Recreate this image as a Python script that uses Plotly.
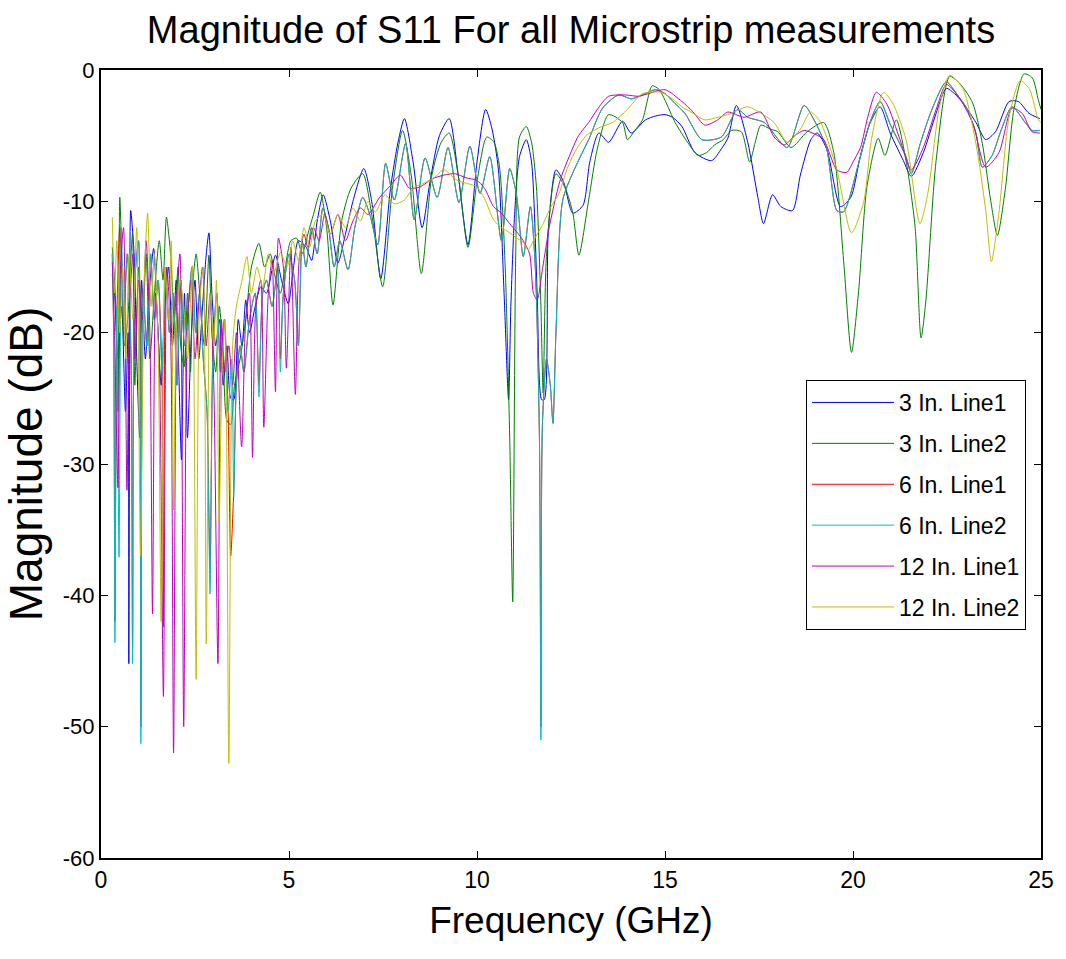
import plotly.graph_objects as go

# ---- data: (frequency GHz, magnitude dB) ----
BLUE = [(0.3,-15.6),(0.35,-16.5),(0.45,-22),(0.55,-18),(0.65,-26),(0.72,-20),(0.74,-45.2),(0.76,-24),(0.79,-10.7),
        (0.88,-14),(0.95,-21.9),(1.03,-28),(1.08,-16),(1.18,-22),(1.28,-17),(1.4,-13.6),(1.5,-19),(1.6,-24),(1.7,-18),(1.8,-15),
        (1.9,-21),(2.0,-16),(2.07,-23),(2.14,-29.7),(2.22,-17),(2.3,-28),(2.4,-20.3),(2.5,-16),(2.6,-22),(2.7,-18),(2.8,-14),(2.87,-12.4),
        (2.95,-17),(3.05,-21),(3.15,-19),(3.25,-24),(3.35,-21),(3.45,-25),(3.53,-25.1),(3.65,-19),(3.75,-21),(3.85,-17.5),
        (3.95,-20),(4.1,-18),(4.25,-16.5),(4.4,-17),(4.64,-14.1),(4.8,-16),(4.98,-17.8),(5.1,-15.5),(5.25,-13),(5.46,-13.5),
        (5.6,-14.5),(5.75,-11.5),(5.91,-9.5),(6.1,-11.5),(6.3,-14.7),(6.5,-12.5),(6.7,-10),(6.99,-7.5),(7.2,-10),(7.44,-15.9),
        (7.7,-9),(7.9,-5.5),(8.07,-3.7),(8.3,-7),(8.54,-12),(8.75,-8.5),(9.0,-5),(9.26,-3.7),(9.5,-8),(9.76,-13.3),(10.0,-7),
        (10.23,-3.0),(10.4,-4.5),(10.57,-7.6),(10.72,-17),(10.84,-25.1),(10.9,-18),(11.0,-11),(11.13,-6.6),(11.31,-5.3),
        (11.45,-7),(11.6,-17),(11.72,-25.1),(11.79,-25.1),(11.9,-12),(12.1,-7.6),(12.3,-8.5),(12.55,-10.9),(12.82,-10.3),
        (13.0,-7),(13.24,-4.8),(13.5,-5.5),(13.87,-3.9),(14.1,-4.8),(14.48,-3.8),(14.75,-3.5),(15.0,-3.4),(15.2,-3.6),
        (15.45,-4.3),(15.8,-6.3),(16.24,-6.9),(16.5,-6),(16.67,-5.2),(16.9,-2.7),(17.2,-5.5),(17.47,-9.7),(17.62,-11.7),
        (17.86,-9.5),(18.08,-10.4),(18.39,-10.7),(18.6,-8),(18.88,-5.3),(19.05,-4.8),(19.31,-6.1),(19.67,-10.4),(19.94,-9.7),
        (20.2,-6.5),(20.46,-4.0),(20.72,-2.8),(20.99,-4.8),(21.34,-6.9),(21.55,-8.1),(21.87,-6.3),(22.21,-3.3),(22.48,-1.4),
        (22.7,-1.8),(22.92,-2.5),(23.27,-4.0),(23.53,-5.3),(23.79,-4.7),(24.15,-2.4),(24.4,-2.4),(24.68,-3.3),(24.97,-3.7)]

GREEN = [(0.3,-13.5),(0.38,-17),(0.45,-26),(0.5,-9.7),(0.56,-15),(0.62,-21),(0.71,-19),(0.8,-14),(0.84,-12.4),(0.9,-24),(1.0,-15),
         (1.1,-20),(1.2,-14),(1.3,-22),(1.42,-17),(1.55,-13),(1.65,-16),(1.74,-11.2),(1.85,-14),(1.95,-19),(2.05,-15),
         (2.12,-21),(2.21,-22.6),(2.3,-17),(2.38,-23),(2.45,-16),(2.53,-14),(2.65,-18),(2.75,-21),(2.87,-14.1),(2.95,-20),(3.05,-23),
         (3.15,-18),(3.25,-22),(3.35,-26.7),(3.45,-27),(3.55,-24),(3.7,-22),(3.85,-19),(4.0,-15),(4.2,-13.2),(4.35,-15),
         (4.5,-14),(4.65,-16),(4.77,-17),(4.9,-15),(5.05,-13),(5.2,-12.8),(5.35,-14),(5.5,-12.5),(5.65,-11),(5.83,-9.3),
         (6.0,-12),(6.17,-17.9),(6.4,-11.5),(6.65,-9),(6.96,-7.9),(7.2,-11),(7.49,-16.5),(7.75,-9),(8.02,-4.6),(8.25,-8),
         (8.52,-15.5),(8.8,-8),(9.05,-5.5),(9.26,-4.8),(9.5,-8),(9.76,-13.5),(10.0,-8.5),(10.26,-5.1),(10.45,-5.5),(10.6,-7.4),
         (10.75,-15),(10.87,-28),(10.95,-40.5),(11.03,-14),(11.13,-5.1),(11.31,-4.3),(11.45,-5.5),(11.58,-8.9),(11.7,-18),
         (11.76,-24.6),(11.85,-14),(12.1,-7.9),(12.35,-9),(12.55,-10.9),(12.71,-14.1),(12.97,-9.9),(13.2,-6),(13.5,-3.4),
         (13.87,-4.0),(14.0,-5.3),(14.2,-4.6),(14.4,-3.8),(14.66,-1.2),(14.85,-1.5),(15.0,-2.3),(15.27,-4.0),(15.6,-5.5),
         (15.88,-6.5),(16.1,-6.3),(16.32,-5.7),(16.55,-5.3),(16.77,-4.6),(17.03,-4.7),(17.25,-7.0),(17.4,-5.5),(17.55,-4.2),
         (17.8,-4.5),(18.0,-4.7),(18.35,-5.9),(18.78,-4.7),(19.22,-4.0),(19.49,-6.3),(19.75,-14.5),(19.96,-21.5),(20.15,-16.8),
         (20.37,-8.9),(20.67,-5.2),(20.85,-6.5),(21.15,-3.8),(21.41,-6.9),(21.65,-11.9),(21.81,-20.4),(21.94,-17.5),
         (22.21,-6.9),(22.57,-0.5),(22.83,-1.0),(23.18,-2.5),(23.44,-5.6),(23.66,-9.9),(23.84,-12.6),(24.05,-9.1),
         (24.28,-3.0),(24.55,-0.3),(24.77,-0.6),(24.93,-2.3),(25.0,-3.0)]

RED = [(0.3,-14),(0.34,-21),(0.37,-42),(0.42,-19),(0.5,-12),(0.6,-19),(0.7,-14),(0.8,-22),(0.84,-44),(0.9,-16),
       (1.0,-13),(1.06,-50),(1.12,-17),(1.22,-21),(1.32,-14),(1.42,-19),(1.52,-16),(1.62,-23),(1.66,-42.4),(1.72,-15),(1.82,-20),
       (1.92,-17),(2.02,-24),(2.12,-16),(2.22,-21),(2.32,-18),(2.42,-15),(2.52,-20),(2.62,-17),(2.72,-22),(2.82,-26),
       (2.9,-38),(2.98,-21),(3.08,-17),(3.18,-23),(3.28,-19),(3.38,-26),(3.45,-37),(3.53,-32),(3.6,-24),(3.7,-21),
       (3.8,-23),(3.95,-19),(4.1,-17),(4.2,-24),(4.3,-17),(4.4,-16),(4.55,-18),(4.7,-15),(4.77,-22),(4.85,-17),(5.0,-14),
       (5.15,-16),(5.25,-21),(5.35,-13),(5.45,-15),(5.6,-12),(5.75,-14),(5.9,-10.5),(6.05,-12),(6.2,-15),(6.35,-13),(6.57,-15.2),(6.75,-12),
       (6.96,-9.7),(7.15,-11),(7.36,-13.3),(7.57,-7.1),(7.8,-9.9),(8.1,-5.6),(8.33,-11.4),(8.62,-6.7),(8.94,-9.7),
       (9.23,-5.9),(9.52,-10.1),(9.81,-5.8),(10.08,-9.4),(10.34,-6.6),(10.65,-13),(10.87,-7.5),(11.05,-9.5),(11.23,-14.2),
       (11.42,-10.4),(11.55,-15),(11.66,-28),(11.7,-50),(11.74,-27),(11.85,-22),(11.95,-24),(12.02,-26.9),(12.1,-20),
       (12.28,-9.9),(12.6,-7.5),(12.97,-5.3),(13.34,-2.9),(13.77,-1.9),(14.1,-2.2),(14.4,-1.9),(14.74,-1.5),(15.0,-1.8),
       (15.25,-2.5),(15.53,-3.3),(15.98,-5.3),(16.5,-5.1),(16.93,-3.0),(17.2,-3.6),(17.64,-4.0),(18.25,-5.9),(18.7,-2.7),
       (19.0,-4),(19.3,-6),(19.57,-10.7),(19.75,-10.8),(20.15,-7.1),(20.45,-4.0),(20.72,-2.4),(21.0,-4.2),(21.41,-6.6),
       (21.55,-7.9),(21.8,-5.5),(22.1,-3.0),(22.48,-0.9),(22.8,-2.0),(23.0,-2.8),(23.27,-4.8),(23.44,-7.4),(23.7,-6.5),
       (23.95,-4.5),(24.23,-2.8),(24.58,-4.0),(24.76,-4.6),(24.97,-4.6)]

CYAN = [(0.3,-14),(0.34,-20),(0.37,-43.6),(0.42,-18),(0.48,-37.1),(0.54,-12),(0.6,-19),(0.7,-14),(0.8,-22),(0.84,-45.2),(0.9,-16),
        (1.0,-13),(1.06,-51.3),(1.12,-17),(1.22,-21),(1.32,-14),(1.42,-19),(1.52,-16),(1.62,-23),(1.72,-15),(1.82,-20),
        (1.92,-17),(2.02,-24),(2.12,-16),(2.22,-21),(2.32,-18),(2.42,-15),(2.52,-20),(2.62,-17),(2.72,-22),(2.82,-26),
        (2.9,-39.9),(2.98,-21),(3.08,-17),(3.18,-23),(3.28,-19),(3.38,-26),(3.48,-22),(3.53,-32.5),(3.6,-24),(3.7,-21),
        (3.8,-23),(3.95,-19),(4.1,-17),(4.2,-24.9),(4.3,-17),(4.4,-16),(4.55,-18),(4.7,-15),(4.77,-23),(4.85,-17),(5.0,-14),
        (5.15,-16),(5.25,-21),(5.35,-13),(5.45,-15),(5.6,-12),(5.75,-14),(5.9,-10.5),(6.05,-12),(6.2,-15),(6.35,-13),(6.57,-15.2),(6.75,-12),
        (6.96,-9.7),(7.15,-11),(7.36,-13.3),(7.57,-7.1),(7.8,-9.9),(8.1,-5.6),(8.33,-11.4),(8.62,-6.7),(8.94,-9.7),
        (9.23,-5.9),(9.52,-10.1),(9.81,-5.8),(10.08,-9.4),(10.34,-6.6),(10.65,-13),(10.87,-7.5),(11.05,-9.5),(11.23,-14.2),
        (11.42,-10.4),(11.55,-15),(11.66,-28),(11.7,-51),(11.74,-27),(11.85,-22),(11.95,-24),(12.02,-26.9),(12.1,-20),
        (12.28,-9.9),(12.6,-7.5),(12.97,-5.3),(13.34,-2.9),(13.77,-1.9),(14.1,-2.2),(14.4,-1.9),(14.74,-1.5),(15.0,-1.8),
        (15.25,-2.5),(15.53,-3.3),(15.98,-5.3),(16.5,-5.1),(16.93,-3.0),(17.2,-3.6),(17.64,-4.0),(18.25,-5.9),(18.7,-2.7),
        (19.0,-4),(19.3,-6),(19.57,-10.7),(19.75,-10.8),(20.15,-7.1),(20.45,-4.0),(20.72,-2.4),(21.0,-4.2),(21.41,-6.6),
        (21.55,-7.9),(21.8,-5.5),(22.1,-3.0),(22.48,-0.9),(22.8,-2.0),(23.0,-2.8),(23.27,-4.8),(23.44,-7.4),(23.7,-6.5),
        (23.95,-4.5),(24.23,-2.8),(24.58,-4.0),(24.76,-4.6),(24.97,-4.6)]

MAGENTA = [(0.3,-14.6),(0.36,-20),(0.45,-31.8),(0.52,-15),(0.6,-12),(0.69,-32),(0.76,-18),(0.85,-14),(0.9,-22),(1.0,-16),(1.1,-19),
           (1.2,-13),(1.3,-20),(1.37,-41.4),(1.45,-17),(1.55,-22),(1.66,-47.7),(1.75,-15),(1.85,-20),(1.93,-52),(2.02,-17),
           (2.1,-14),(2.2,-50),(2.3,-19),(2.4,-16),(2.5,-22),(2.6,-18),(2.7,-15),(2.8,-21),(2.9,-17),(3.0,-24),(3.11,-45.2),
           (3.2,-19),(3.3,-23),(3.4,-21),(3.5,-24),(3.6,-20),(3.74,-28.7),(3.85,-19),(3.95,-17),(4.03,-29.5),(4.12,-18),
           (4.25,-16),(4.33,-27.2),(4.45,-17),(4.55,-14.5),(4.64,-24.5),(4.72,-12.8),(4.85,-15),(4.93,-22.7),(5.05,-13.5),
           (5.17,-24.7),(5.27,-14.5),(5.4,-12.5),(5.5,-13.5),(5.65,-12),(5.8,-13),
           (5.95,-11),(6.1,-12.5),(6.3,-11),(6.5,-13),(6.7,-11.5),(6.9,-10.5),(7.1,-11),(7.41,-9.7),(7.7,-8.8),(7.96,-8.0),
           (8.2,-9),(8.49,-8.9),(8.8,-8.3),(9.12,-8.0),(9.42,-7.9),(9.7,-8.2),(9.99,-8.4),(10.2,-9),(10.44,-10.4),
           (10.65,-10.9),(10.87,-11.7),(11.05,-12.3),(11.23,-13),(11.4,-14),(11.5,-17),(11.6,-17.5),(11.75,-15),(11.92,-12),
           (12.2,-8.5),(12.45,-6.6),(12.7,-5.0),(12.97,-4.0),(13.2,-3.0),(13.5,-2.0),(13.95,-1.9),(14.3,-2.0),(14.56,-1.8),
           (15.0,-1.5),(15.45,-2.4),(15.75,-3.2),(16.06,-4.2),(16.4,-3.8),(16.67,-3.2),(17.1,-3.6),(17.55,-3.2),(17.9,-5.1),
           (18.17,-5.7),(18.45,-5.0),(18.7,-4.6),(19.0,-4.9),(19.22,-5.3),(19.57,-7.6),(19.83,-7.8),(20.0,-7.0),(20.2,-5.9),
           (20.4,-3.5),(20.62,-1.7),(20.9,-2.6),(21.25,-5.3),(21.55,-7.6),(21.87,-5.9),(22.21,-3.0),(22.48,-1.1),(22.8,-2.0),
           (23.18,-4.0),(23.53,-7.4),(23.88,-6.3),(24.23,-2.9),(24.5,-3.3),(24.76,-4.7),(24.97,-4.8)]

YELLOW = [(0.3,-11.2),(0.36,-17),(0.42,-13),(0.5,-20),(0.58,-15),(0.66,-22),(0.75,-14),(0.85,-19),(0.95,-12),(1.05,-37),
          (1.15,-16),(1.24,-10.9),(1.33,-18),(1.42,-14),(1.52,-21),(1.6,-42),(1.7,-15),(1.8,-19),(1.87,-13),(1.93,-33.5),(2.0,-20),
          (2.1,-16),(2.2,-18),(2.3,-22),(2.43,-14.9),(2.53,-46.4),(2.62,-18),(2.72,-15),(2.8,-43.7),(2.9,-17),(3.0,-21),
          (3.07,-16),(3.14,-34.5),(3.22,-23),(3.3,-19),(3.4,-52.8),(3.5,-21),(3.6,-18),(3.75,-16),(3.88,-14.2),(4.0,-17),(4.15,-15),
          (4.3,-16.5),(4.45,-14),(4.6,-15.5),(4.77,-13.9),(4.95,-15),(5.1,-13),(5.25,-14.5),(5.4,-12),(5.55,-13.5),
          (5.7,-11.5),(5.91,-11.0),(6.1,-12.5),(6.3,-11),(6.5,-12),(6.7,-10.5),(6.9,-11.5),(7.1,-10),(7.3,-10.8),(7.55,-9.5),
          (7.8,-10.2),(8.07,-9.9),(8.3,-9.0),(8.6,-8.6),(8.86,-8.2),(9.12,-7.6),(9.47,-8.4),(9.99,-8.9),(10.2,-9.8),
          (10.44,-11.4),(10.65,-12),(10.87,-12.4),(11.05,-12.8),(11.23,-13.1),(11.36,-13.7),(11.5,-13),(11.76,-11.7),
          (11.95,-10.5),(12.18,-9.4),(12.4,-7.5),(12.63,-6.1),(12.9,-5),(13.24,-4.4),(13.6,-4.0),(14.0,-3),(14.4,-1.8),
          (14.9,-1.7),(15.2,-2.2),(15.45,-2.8),(15.75,-3.3),(16.06,-3.8),(16.4,-3.6),(16.67,-3.4),(17.2,-2.8),(17.5,-3.2),
          (17.9,-4.0),(18.25,-5.5),(18.6,-4.5),(18.87,-3.2),(19.14,-4.0),(19.57,-7.6),(19.96,-12.4),(20.28,-10.1),
          (20.49,-5.3),(20.81,-1.7),(21.05,-2.5),(21.41,-5.3),(21.78,-11.7),(21.99,-9.4),(22.3,-2.8),(22.57,-0.4),
          (22.92,-1.4),(23.27,-5.6),(23.53,-10.7),(23.68,-14.6),(23.88,-10.9),(24.15,-3.6),(24.45,-0.8),(24.7,-1.5),
          (24.93,-3.8),(25.0,-4.0)]

SERIES = [("3 In. Line1", BLUE, "#0000FF"),
          ("3 In. Line2", GREEN, "#008000"),
          ("6 In. Line1", RED, "#FF0000"),
          ("6 In. Line2", CYAN, "#00BFBF"),
          ("12 In. Line1", MAGENTA, "#BF00BF"),
          ("12 In. Line2", YELLOW, "#BFBF00")]

TITLE = "Magnitude of S11 For all Microstrip measurements"
X_TICKS = [0, 5, 10, 15, 20, 25]
Y_TICKS = [0, -10, -20, -30, -40, -50, -60]
Y_TICKTEXT = ["0", "-10", "-20", "-30", "-40", "-50", "-60"]

FONT = "Liberation Sans, Arial, sans-serif"

fig = go.Figure()
for i, (name, pts, col) in enumerate(SERIES):
    xs = [p[0] for p in pts]
    ys = [p[1] for p in pts]
    fig.add_trace(go.Scatter(x=xs, y=ys, mode="lines", name=name, legendgroup=f"g{i}",
                             line=dict(color=col, width=1, shape="spline", smoothing=0.7)))

fig.update_layout(
    width=1066, height=959,
    margin=dict(l=101, r=17, t=70, b=101),
    paper_bgcolor="white", plot_bgcolor="white",
    title=dict(text=TITLE, x=0.5, xref="paper", xanchor="center", y=1 - 30 / 959, yanchor="middle",
               font=dict(family=FONT, size=38, color="black")),
    showlegend=True,
    legend=dict(x=(812 - 101) / 948, y=(858 - 380) / 788, xanchor="left", yanchor="top",
                bordercolor="black", borderwidth=1, bgcolor="white",
                font=dict(family=FONT, size=23, color="black"),
                tracegroupgap=8, itemwidth=82),
    xaxis=dict(range=[0, 25], tickvals=X_TICKS, ticks="inside", ticklen=7, tickcolor="black",
               showline=True, linecolor="black", linewidth=2, mirror="ticks", showgrid=False, zeroline=False,
               tickfont=dict(family=FONT, size=23, color="black"),
               title=dict(text="Frequency (GHz)", standoff=16, font=dict(family=FONT, size=37, color="black"))),
    yaxis=dict(range=[-60, 0], tickvals=Y_TICKS, ticktext=Y_TICKTEXT, ticks="inside", ticklen=7, tickcolor="black",
               showline=True, linecolor="black", linewidth=2, mirror="ticks", showgrid=False, zeroline=False,
               tickfont=dict(family=FONT, size=22, color="black"),
               title=dict(text="Magnitude (dB)", standoff=6, font=dict(family=FONT, size=46, color="black"))),
)

fig.write_html("out.html")
